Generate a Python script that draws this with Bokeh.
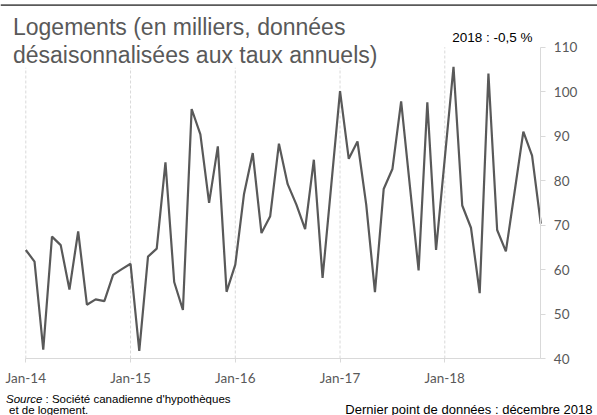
from bokeh.plotting import figure
from bokeh.models import Range1d, FixedTicker, Label, BoxAnnotation
from bokeh.embed import file_html
from bokeh.resources import INLINE

# --- data (housing starts, thousands, seasonally adjusted annual rates) ---
tick_labels = ["Jan-14", "Jan-15", "Jan-16", "Jan-17", "Jan-18"]
tick_months = [0, 12, 24, 36, 48]
y_ticks = [40, 50, 60, 70, 80, 90, 100, 110]

starts_2014 = [64.4, 61.8, 42.0, 67.4, 65.5, 55.5, 68.6, 52.1, 53.3, 52.9, 58.8, 60.1]
starts_2015 = [61.3, 41.7, 62.9, 64.7, 84.1, 57.2, 50.9, 96.1, 90.4, 75.0, 87.7, 55.0]
starts_2016 = [61.1, 77.0, 86.2, 68.2, 72.0, 88.3, 79.2, 74.6, 69.1, 84.7, 58.1, 79.1]
starts_2017 = [100.1, 84.9, 88.8, 74.6, 54.9, 78.1, 82.6, 97.8, 78.8, 59.8, 97.6, 64.4]
starts_2018 = [85.0, 105.6, 74.4, 69.4, 54.7, 104.1, 68.9, 64.1, 77.5, 91.0, 85.6, 70.3]

values = starts_2014 + starts_2015 + starts_2016 + starts_2017 + starts_2018
months = list(range(len(values)))

title_1 = "Logements (en milliers, données"
title_2 = "désaisonnalisées aux taux annuels)"
annot = "2018 : -0,5 %"
source_1 = ": Société canadienne d'hypothèques"
source_2 = "et de logement."
last_point = "Dernier point de données : décembre 2018"

GREY = "#595959"
LIGHT = "#d9d9d9"

# --- canvas geometry (pixels) ---
W, H = 597, 415
PX_LEFT, PX_RIGHT = 25.3, 540.3      # first / last month
PX_TOP, PX_BOTTOM = 46.7, 358.0      # y = 110 / y = 40
x0, x1 = months[0], months[-1]
y0, y1 = y_ticks[0], y_ticks[-1]
ppx = (PX_RIGHT - PX_LEFT) / (x1 - x0)
ppy = (PX_BOTTOM - PX_TOP) / (y1 - y0)
x_range = Range1d(x0 - PX_LEFT / ppx, x1 + (W - PX_RIGHT) / ppx)
y_range = Range1d(y0 - (H - PX_BOTTOM) / ppy, y1 + PX_TOP / ppy)

p = figure(width=W, height=H, output_backend="svg", toolbar_location=None,
           x_range=x_range, y_range=y_range, y_axis_location="right", min_border=0)
p.outline_line_color = None
p.background_fill_color = "white"
p.border_fill_color = "white"
p.xgrid.visible = False
p.ygrid.visible = False

# vertical dashed year gridlines
p.segment(x0=tick_months, y0=[y0] * len(tick_months), x1=tick_months, y1=[y1] * len(tick_months),
          line_color=LIGHT, line_width=1, line_dash="3 2")

p.xaxis.ticker = FixedTicker(ticks=tick_months)
p.xaxis.major_label_overrides = {m: lab for m, lab in zip(tick_months, tick_labels)}
p.xaxis.fixed_location = y0
p.xaxis.bounds = (x0, x1)
p.yaxis.ticker = FixedTicker(ticks=y_ticks)
p.yaxis.fixed_location = x1
p.yaxis.bounds = (y0, y1)

for ax in (p.xaxis[0], p.yaxis[0]):
    ax.axis_line_color = LIGHT
    ax.major_tick_line_color = LIGHT
    ax.minor_tick_line_color = None
    ax.major_tick_in = 0
    ax.major_label_text_color = GREY
    ax.major_label_text_font = "Lato"
    ax.major_label_text_font_size = "13.5px"
p.xaxis.major_tick_out = 4
p.xaxis.major_label_standoff = 7
p.yaxis.major_tick_out = 5
p.yaxis.major_label_standoff = 8

p.line(months, values, line_color=GREY, line_width=2.2)


def lab(x, y, text, size, color="black", align="left", style="normal",
        font="Liberation Sans", bg=None):
    p.add_layout(Label(x=x, y=H - y, x_units="screen", y_units="screen", text=text,
                       text_font=font, text_font_size=size, text_color=color,
                       text_align=align, text_baseline="alphabetic", text_font_style=style,
                       background_fill_color=bg))


lab(12.5, 26.7, title_1, "23px", GREY)
lab(12.5, 54.3, title_2, "23px", GREY, bg="white")
lab(451.7, 36.7, annot, "13.5px")
lab(5.5, 398.5, "Source", "11.5px", style="italic")
lab(45, 398.5, source_1, "11.5px")
lab(8.5, 409, source_2, "11.5px")
lab(592, 408.5, last_point, "13px", align="right")

# dark rule across the top
p.add_layout(BoxAnnotation(left=0, right=W, top=H - 3.7, bottom=H - 5.4,
                           left_units="screen", right_units="screen",
                           top_units="screen", bottom_units="screen",
                           fill_color=GREY, fill_alpha=1, line_color=None))

open("out.html", "w").write(file_html(p, INLINE))
